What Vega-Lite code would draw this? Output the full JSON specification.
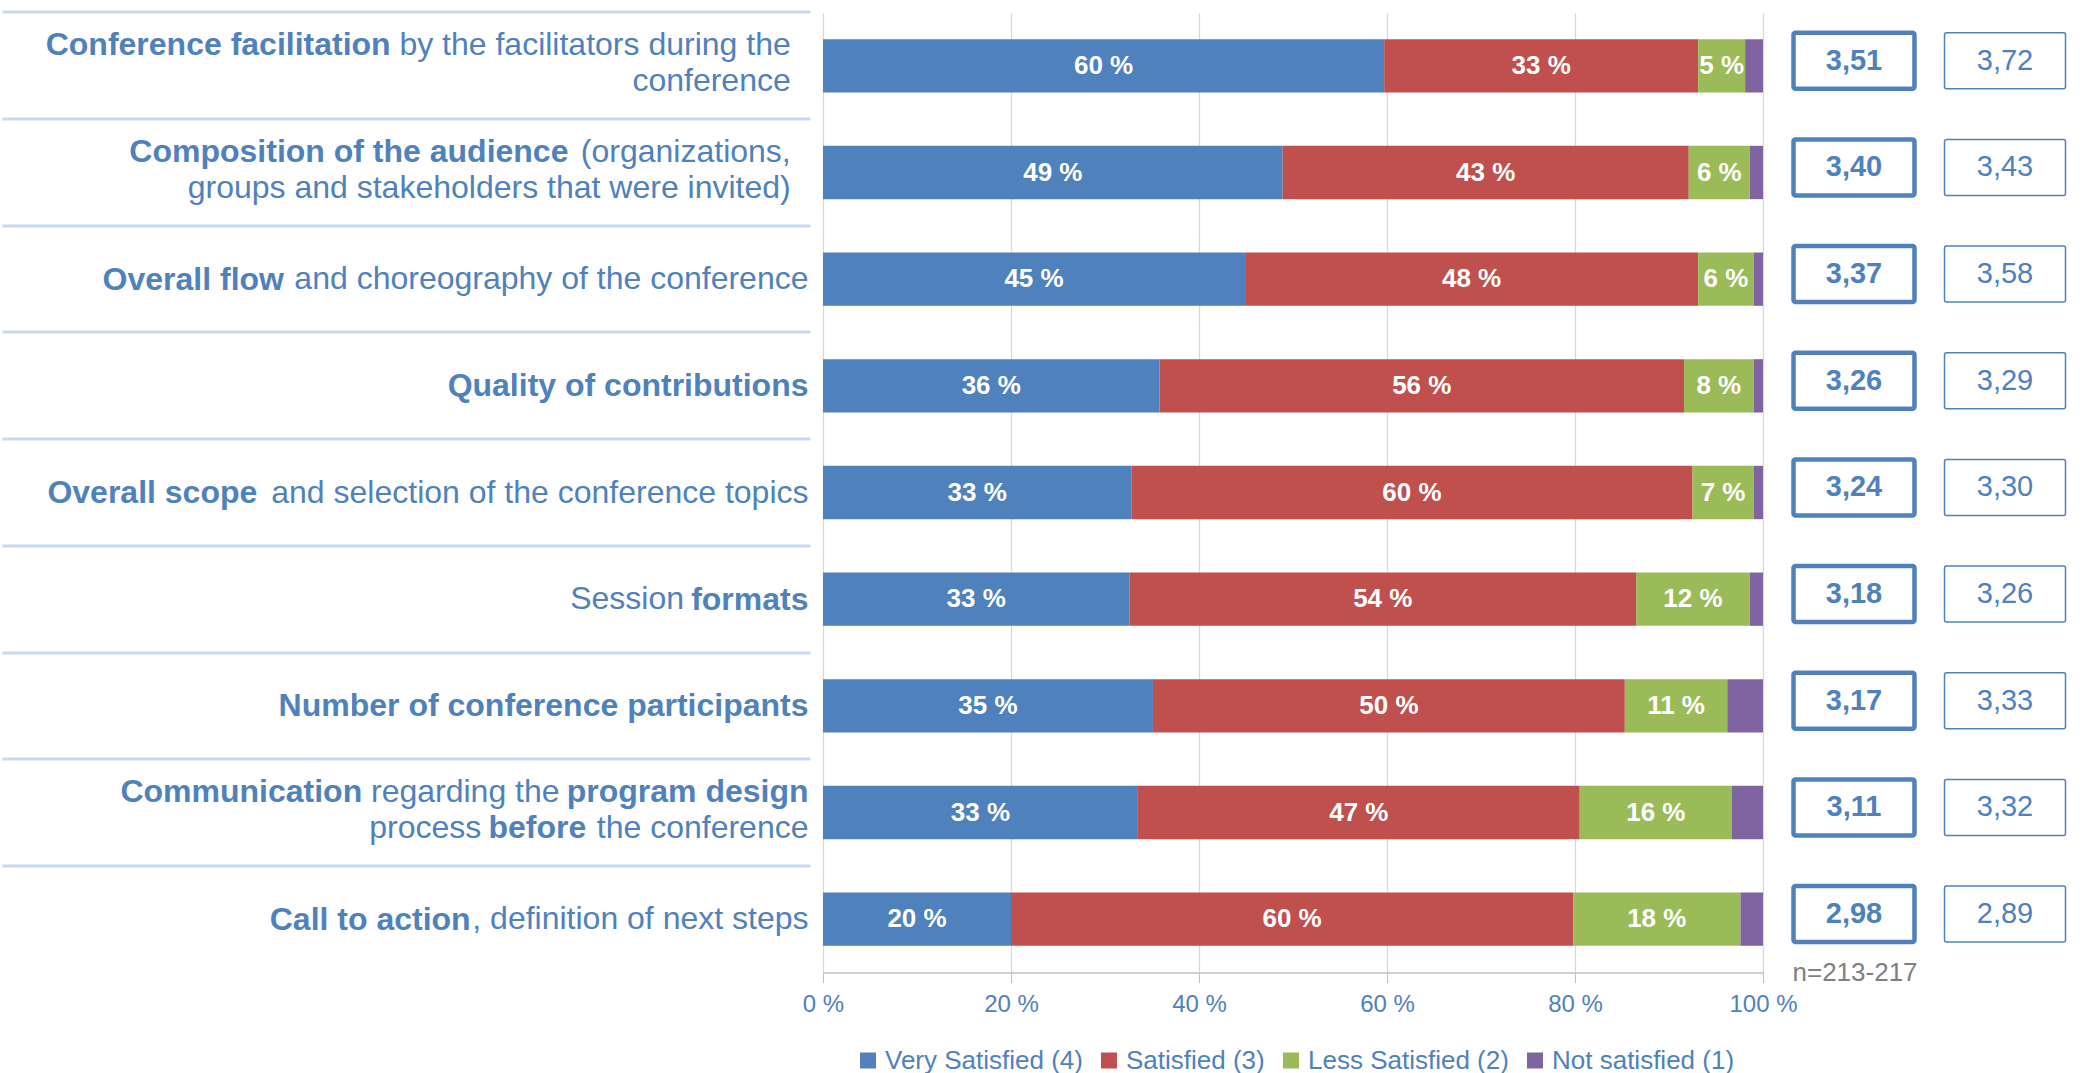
{
  "$schema": "https://vega.github.io/schema/vega-lite/v6.json",
  "background": "white",
  "padding": {"left": 0, "top": 9.5, "right": 0, "bottom": 0},
  "spacing": 0,
  "bounds": "flush",
  "config": {
    "font": "Liberation Sans",
    "view": {"stroke": null},
    "locale": {"number": {"decimal": ",", "thousands": ".", "grouping": [3], "currency": ["", " €"]}}
  },
  "datasets": {
    "bars": [
      {"item": "Conference facilitation by the facilitators during the\nconference", "level": "Very Satisfied (4)", "score": 4, "pct": 59.7, "lbl": "60 %"},
      {"item": "Conference facilitation by the facilitators during the\nconference", "level": "Satisfied (3)", "score": 3, "pct": 33.4, "lbl": "33 %"},
      {"item": "Conference facilitation by the facilitators during the\nconference", "level": "Less Satisfied (2)", "score": 2, "pct": 5.0, "lbl": "5 %"},
      {"item": "Conference facilitation by the facilitators during the\nconference", "level": "Not satisfied (1)", "score": 1, "pct": 1.9, "lbl": ""},
      {"item": "Composition of the audience (organizations,\ngroups and stakeholders that were invited)", "level": "Very Satisfied (4)", "score": 4, "pct": 48.9, "lbl": "49 %"},
      {"item": "Composition of the audience (organizations,\ngroups and stakeholders that were invited)", "level": "Satisfied (3)", "score": 3, "pct": 43.2, "lbl": "43 %"},
      {"item": "Composition of the audience (organizations,\ngroups and stakeholders that were invited)", "level": "Less Satisfied (2)", "score": 2, "pct": 6.5, "lbl": "6 %"},
      {"item": "Composition of the audience (organizations,\ngroups and stakeholders that were invited)", "level": "Not satisfied (1)", "score": 1, "pct": 1.4, "lbl": ""},
      {"item": "Overall flow and choreography of the conference", "level": "Very Satisfied (4)", "score": 4, "pct": 44.9, "lbl": "45 %"},
      {"item": "Overall flow and choreography of the conference", "level": "Satisfied (3)", "score": 3, "pct": 48.2, "lbl": "48 %"},
      {"item": "Overall flow and choreography of the conference", "level": "Less Satisfied (2)", "score": 2, "pct": 5.9, "lbl": "6 %"},
      {"item": "Overall flow and choreography of the conference", "level": "Not satisfied (1)", "score": 1, "pct": 1.0, "lbl": ""},
      {"item": "Quality of contributions", "level": "Very Satisfied (4)", "score": 4, "pct": 35.8, "lbl": "36 %"},
      {"item": "Quality of contributions", "level": "Satisfied (3)", "score": 3, "pct": 55.8, "lbl": "56 %"},
      {"item": "Quality of contributions", "level": "Less Satisfied (2)", "score": 2, "pct": 7.4, "lbl": "8 %"},
      {"item": "Quality of contributions", "level": "Not satisfied (1)", "score": 1, "pct": 1.0, "lbl": ""},
      {"item": "Overall scope and selection of the conference topics", "level": "Very Satisfied (4)", "score": 4, "pct": 32.8, "lbl": "33 %"},
      {"item": "Overall scope and selection of the conference topics", "level": "Satisfied (3)", "score": 3, "pct": 59.7, "lbl": "60 %"},
      {"item": "Overall scope and selection of the conference topics", "level": "Less Satisfied (2)", "score": 2, "pct": 6.5, "lbl": "7 %"},
      {"item": "Overall scope and selection of the conference topics", "level": "Not satisfied (1)", "score": 1, "pct": 1.0, "lbl": ""},
      {"item": "Session formats", "level": "Very Satisfied (4)", "score": 4, "pct": 32.6, "lbl": "33 %"},
      {"item": "Session formats", "level": "Satisfied (3)", "score": 3, "pct": 53.9, "lbl": "54 %"},
      {"item": "Session formats", "level": "Less Satisfied (2)", "score": 2, "pct": 12.1, "lbl": "12 %"},
      {"item": "Session formats", "level": "Not satisfied (1)", "score": 1, "pct": 1.4, "lbl": ""},
      {"item": "Number of conference participants", "level": "Very Satisfied (4)", "score": 4, "pct": 35.1, "lbl": "35 %"},
      {"item": "Number of conference participants", "level": "Satisfied (3)", "score": 3, "pct": 50.2, "lbl": "50 %"},
      {"item": "Number of conference participants", "level": "Less Satisfied (2)", "score": 2, "pct": 10.9, "lbl": "11 %"},
      {"item": "Number of conference participants", "level": "Not satisfied (1)", "score": 1, "pct": 3.8, "lbl": ""},
      {"item": "Communication regarding the program design\nprocess before the conference", "level": "Very Satisfied (4)", "score": 4, "pct": 33.5, "lbl": "33 %"},
      {"item": "Communication regarding the program design\nprocess before the conference", "level": "Satisfied (3)", "score": 3, "pct": 47.0, "lbl": "47 %"},
      {"item": "Communication regarding the program design\nprocess before the conference", "level": "Less Satisfied (2)", "score": 2, "pct": 16.2, "lbl": "16 %"},
      {"item": "Communication regarding the program design\nprocess before the conference", "level": "Not satisfied (1)", "score": 1, "pct": 3.3, "lbl": ""},
      {"item": "Call to action, definition of next steps", "level": "Very Satisfied (4)", "score": 4, "pct": 20.0, "lbl": "20 %"},
      {"item": "Call to action, definition of next steps", "level": "Satisfied (3)", "score": 3, "pct": 59.8, "lbl": "60 %"},
      {"item": "Call to action, definition of next steps", "level": "Less Satisfied (2)", "score": 2, "pct": 17.8, "lbl": "18 %"},
      {"item": "Call to action, definition of next steps", "level": "Not satisfied (1)", "score": 1, "pct": 2.4, "lbl": ""}
    ],
    "boxes": [
      {"item": "Conference facilitation by the facilitators during the\nconference", "col": "current", "score": 3.51},
      {"item": "Conference facilitation by the facilitators during the\nconference", "col": "previous", "score": 3.72},
      {"item": "Composition of the audience (organizations,\ngroups and stakeholders that were invited)", "col": "current", "score": 3.40},
      {"item": "Composition of the audience (organizations,\ngroups and stakeholders that were invited)", "col": "previous", "score": 3.43},
      {"item": "Overall flow and choreography of the conference", "col": "current", "score": 3.37},
      {"item": "Overall flow and choreography of the conference", "col": "previous", "score": 3.58},
      {"item": "Quality of contributions", "col": "current", "score": 3.26},
      {"item": "Quality of contributions", "col": "previous", "score": 3.29},
      {"item": "Overall scope and selection of the conference topics", "col": "current", "score": 3.24},
      {"item": "Overall scope and selection of the conference topics", "col": "previous", "score": 3.30},
      {"item": "Session formats", "col": "current", "score": 3.18},
      {"item": "Session formats", "col": "previous", "score": 3.26},
      {"item": "Number of conference participants", "col": "current", "score": 3.17},
      {"item": "Number of conference participants", "col": "previous", "score": 3.33},
      {"item": "Communication regarding the program design\nprocess before the conference", "col": "current", "score": 3.11},
      {"item": "Communication regarding the program design\nprocess before the conference", "col": "previous", "score": 3.32},
      {"item": "Call to action, definition of next steps", "col": "current", "score": 2.98},
      {"item": "Call to action, definition of next steps", "col": "previous", "score": 2.89}
    ]
  },
  "resolve": {
    "scale": {"x": "independent", "y": "independent", "color": "independent"},
    "legend": {"color": "independent"}
  },
  "hconcat": [
    {
      "width": 940,
      "height": 960,
      "data": {"name": "bars"},
      "resolve": {"scale": {"y": "independent"}, "axis": {"y": "independent"}},
      "layer": [
        {
          "encoding": {
            "y": {
              "field": "item",
              "type": "nominal",
              "sort": null,
              "scale": {"paddingInner": 0.5, "paddingOuter": 0.25},
              "axis": {
                "orient": "left",
                "title": null,
                "domain": false,
                "grid": false,
                "ticks": true,
                "tickSize": 808,
                "tickColor": "#c6d9f1",
                "tickWidth": 3,
                "offset": 13,
                "bandPosition": -0.5,
                "labelOffset": {
                  "condition": {"test": "indexof(datum.label, '\\n') >= 0", "value": -21},
                  "value": 0
                },
                "labelPadding": -806,
                "labelAlign": "right",
                "labelBaseline": "middle",
                "labelColor": "#4F81BD",
                "labelFontSize": 32,
                "labelFontWeight": "normal",
                "labelLineHeight": 36,
                "labelLimit": 1000,
                "labelExpr": "indexof(datum.label,'Conference')==0 ? ['by the facilitators during the' + pad('',2,'\u00a0') + '\u200b', 'conference' + pad('',2,'\u00a0') + '\u200b'] : indexof(datum.label,'Composition')==0 ? ['(organizations,' + pad('',2,'\u00a0') + '\u200b', 'groups and stakeholders that were invited)' + pad('',2,'\u00a0') + '\u200b'] : indexof(datum.label,'Overall flow')==0 ? 'and choreography of the conference' : indexof(datum.label,'Quality')==0 ? '' : indexof(datum.label,'Overall scope')==0 ? 'and selection of the conference topics' : indexof(datum.label,'Session')==0 ? 'Session' + pad('',14,'\u00a0') + '\u200b' : indexof(datum.label,'Number')==0 ? '' : indexof(datum.label,'Communication')==0 ? ['regarding the' + pad('',28,'\u00a0') + '\u200b', 'process' + pad('',13,'\u00a0') + 'the conference'] : ', definition of next steps'"
              }
            },
            "x": {
              "field": "pct",
              "type": "quantitative",
              "stack": "zero",
              "scale": {"domain": [0, 100], "nice": false},
              "axis": {
                "title": null,
                "values": [0, 20, 40, 60, 80, 100],
                "labelExpr": "datum.value + ' %'",
                "grid": true,
                "gridColor": "#d9d9d9",
                "gridWidth": 1.3,
                "domainColor": "#bfbfbf",
                "domainWidth": 1.5,
                "tickColor": "#bfbfbf",
                "tickSize": 10,
                "labelColor": "#4F81BD",
                "labelFontSize": 24,
                "labelPadding": 10,
                "labelFlush": false
              }
            },
            "order": {"field": "score", "sort": "descending"}
          },
          "layer": [
            {
              "mark": {"type": "bar"},
              "encoding": {
                "color": {
                  "field": "level",
                  "type": "nominal",
                  "sort": null,
                  "scale": {
                    "domain": ["Very Satisfied (4)", "Satisfied (3)", "Less Satisfied (2)", "Not satisfied (1)"],
                    "range": ["#4F81BD", "#C0504D", "#9BBB59", "#8064A2"]
                  },
                  "legend": {
                    "title": null,
                    "orient": "none",
                    "direction": "horizontal",
                    "legendX": 32,
                    "legendY": 1035,
                    "symbolType": "square",
                    "symbolSize": 256,
                    "symbolStrokeWidth": 0,
                    "labelFontSize": 26,
                    "labelColor": "#4F81BD",
                    "labelOffset": 4,
                    "columnPadding": 13,
                    "labelLimit": 400
                  }
                }
              }
            },
            {
              "mark": {"type": "text", "color": "white", "fontWeight": "bold", "fontSize": 26, "align": "center", "baseline": "middle"},
              "encoding": {
                "x": {"field": "pct", "type": "quantitative", "stack": "zero", "bandPosition": 0.5},
                "detail": {"field": "level", "type": "nominal"},
                "text": {"field": "lbl", "type": "nominal"}
              }
            }
          ]
        },
        {
          "mark": {"type": "text", "text": "", "opacity": 0},
          "encoding": {
            "y": {
              "field": "item",
              "type": "nominal",
              "sort": null,
              "scale": {"paddingInner": 0.5, "paddingOuter": 0.25},
              "axis": {
                "orient": "left",
                "title": null,
                "domain": false,
                "grid": false,
                "ticks": false,
                "offset": 13,
                "labelOffset": {
                  "condition": {"test": "indexof(datum.label, '\\n') >= 0", "value": -21},
                  "value": 0
                },
                "labelPadding": 2,
                "labelAlign": "right",
                "labelBaseline": "middle",
                "labelColor": "#4F81BD",
                "labelFontSize": 32,
                "labelFontWeight": "bold",
                "labelLineHeight": 36,
                "labelLimit": 1000,
                "labelExpr": "indexof(datum.label,'Conference')==0 ? ['Conference facilitation' + pad('',47,'\u00a0') + '\u200b', ''] : indexof(datum.label,'Composition')==0 ? ['Composition of the audience' + pad('',27,'\u00a0') + '\u200b', ''] : indexof(datum.label,'Overall flow')==0 ? 'Overall flow' + pad('',59,'\u00a0') + '\u200b' : indexof(datum.label,'Quality')==0 ? 'Quality of contributions' : indexof(datum.label,'Overall scope')==0 ? 'Overall scope' + pad('',62,'\u00a0') + '\u200b' : indexof(datum.label,'Session')==0 ? 'formats' : indexof(datum.label,'Number')==0 ? 'Number of conference participants' : indexof(datum.label,'Communication')==0 ? ['Communication' + pad('',23,'\u00a0') + 'program design', 'before' + pad('',25,'\u00a0') + '\u200b'] : 'Call to action' + pad('',38,'\u00a0') + '\u200b'"
              }
            }
          }
        }
      ]
    },
    {
      "width": 333,
      "height": 960,
      "data": {"name": "boxes"},
      "encoding": {
        "y": {
          "field": "item",
          "type": "nominal",
          "sort": null,
          "scale": {"paddingInner": 0.475, "paddingOuter": 0.2375, "align": 0.4},
          "axis": null
        },
        "x": {
          "field": "col",
          "type": "nominal",
          "sort": null,
          "scale": {"domain": ["current", "previous"], "paddingInner": 0.199, "paddingOuter": 0.202},
          "axis": {
            "labels": false,
            "ticks": false,
            "domain": false,
            "grid": false,
            "title": "n=213-217",
            "titleColor": "#7f7f7f",
            "titleFontWeight": "normal",
            "titleFontSize": 26,
            "titleAlign": "left",
            "titleAnchor": "start",
            "titleBaseline": "middle",
            "titleX": 29,
            "titleY": 0
          }
        }
      },
      "layer": [
        {
          "mark": {"type": "rect", "fill": "white", "stroke": "#4F81BD", "cornerRadius": 2},
          "encoding": {
            "strokeWidth": {
              "field": "col",
              "type": "nominal",
              "scale": {"domain": ["current", "previous"], "range": [4.5, 1.5]},
              "legend": null
            }
          }
        },
        {
          "mark": {"type": "text", "color": "#4F81BD", "fontWeight": "bold", "fontSize": 29, "align": "center", "baseline": "middle"},
          "encoding": {
            "text": {"field": "score", "type": "quantitative", "format": ".2f"},
            "opacity": {"condition": {"test": "datum.col == 'current'", "value": 1}, "value": 0}
          }
        },
        {
          "mark": {"type": "text", "color": "#4F81BD", "fontWeight": "normal", "fontSize": 29, "align": "center", "baseline": "middle"},
          "encoding": {
            "text": {"field": "score", "type": "quantitative", "format": ".2f"},
            "opacity": {"condition": {"test": "datum.col == 'previous'", "value": 1}, "value": 0}
          }
        }
      ]
    }
  ]
}
